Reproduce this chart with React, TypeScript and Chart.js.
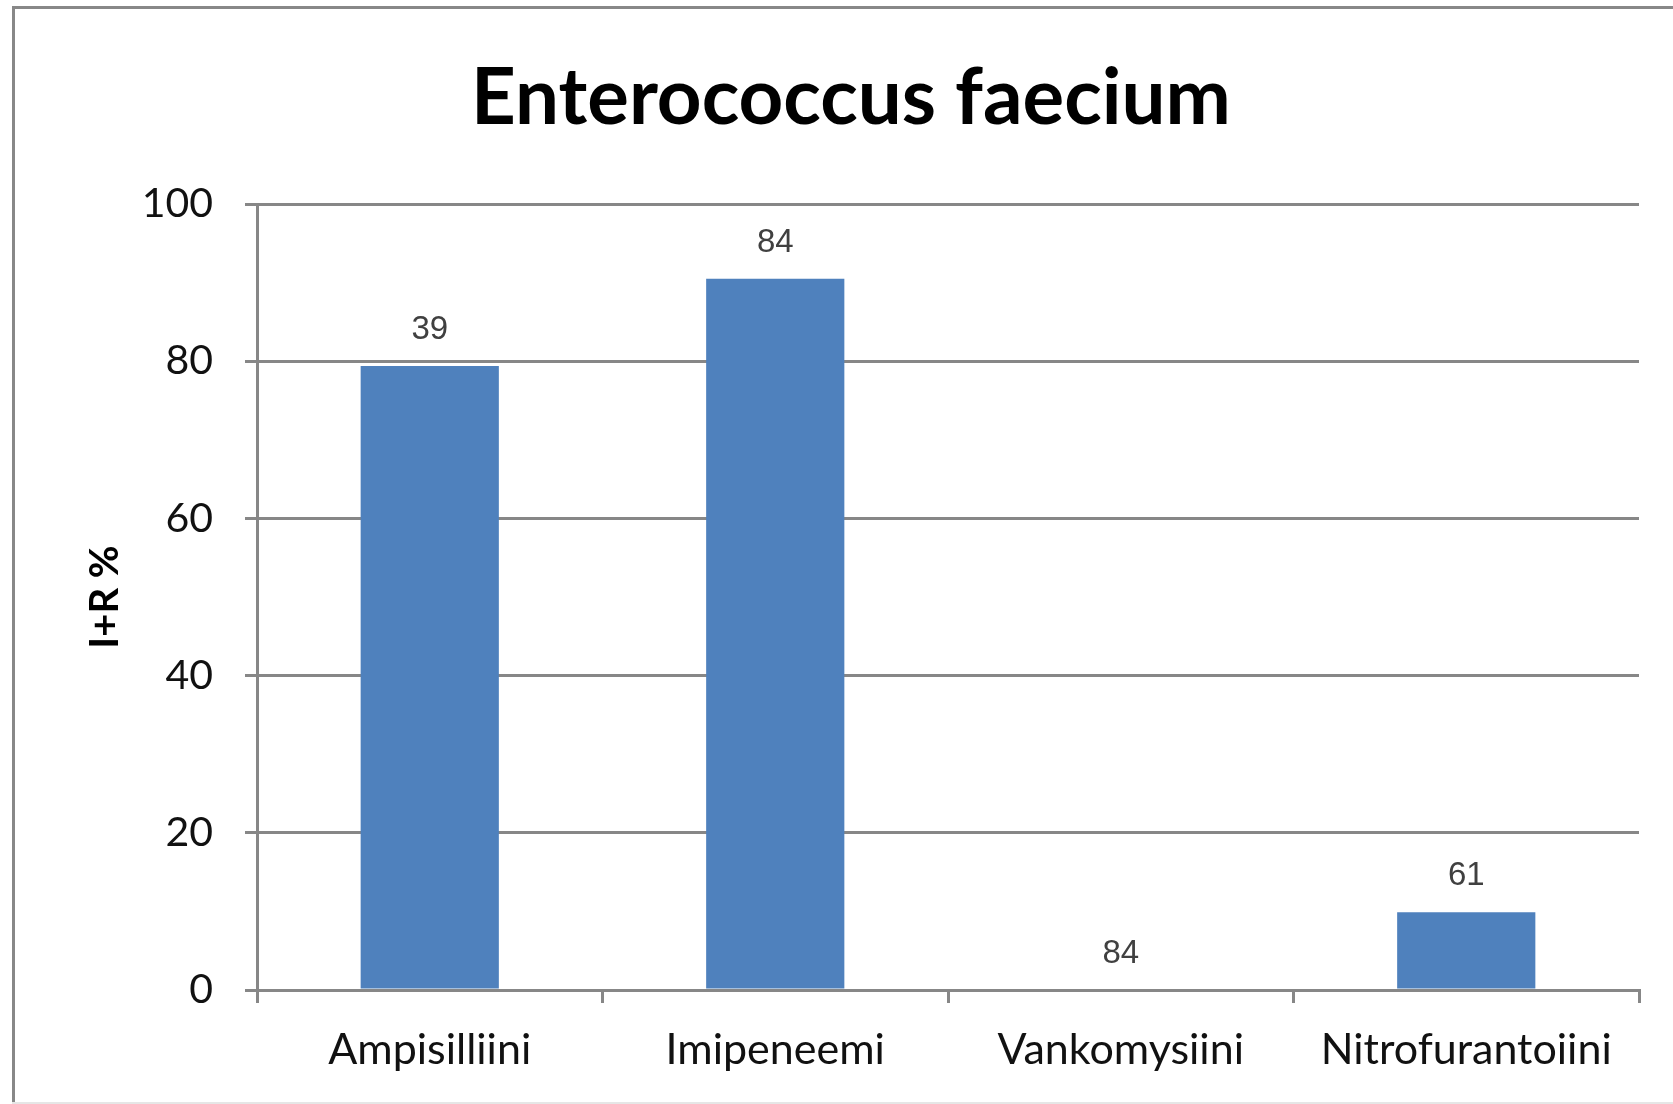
import React, { useEffect, useRef } from 'react';
import { Chart, registerables } from 'chart.js';

Chart.register(...registerables);

// ---- data ----
const categories = ['Ampisilliini', 'Imipeneemi', 'Vankomysiini', 'Nitrofurantoiini'];
const resistancePct = [79.4, 90.5, 0, 9.9];
const isolateCounts = ['39', '84', '84', '61'];
const yMin = 0;
const yMax = 100;
const yStep = 20;
const chartTitle = 'Enterococcus faecium';
const yAxisTitle = 'I+R %';

const AXIS_GRAY = '#878787';
const BAR_BLUE = '#4F81BD';

const framePlugin = {
  id: 'frame',
  beforeDraw(chart: any) {
    const { ctx, width, height } = chart;
    ctx.save();
    ctx.fillStyle = '#ffffff';
    ctx.fillRect(0, 0, width, height);
    ctx.strokeStyle = '#888888';
    ctx.lineWidth = 3;
    ctx.beginPath();
    ctx.moveTo(width + 10, 7.5);
    ctx.lineTo(13.5, 7.5);
    ctx.lineTo(13.5, height - 2);
    ctx.stroke();
    ctx.fillStyle = '#e6e6e6';
    ctx.fillRect(12, height - 2, width - 12, 2);
    ctx.restore();
  },
  afterDraw(chart: any) {
    const { ctx } = chart;
    ctx.save();
    ctx.fillStyle = '#000000';
    ctx.font = 'bold 78px Lato';
    ctx.textAlign = 'center';
    ctx.textBaseline = 'alphabetic';
    ctx.fillText(chartTitle, 851, 124);
    ctx.restore();
  },
};

const countLabelPlugin = {
  id: 'countLabels',
  afterDatasetsDraw(chart: any) {
    const { ctx } = chart;
    const meta = chart.getDatasetMeta(0);
    ctx.save();
    ctx.fillStyle = '#404040';
    ctx.font = '33px "Liberation Sans"';
    ctx.textAlign = 'center';
    ctx.textBaseline = 'middle';
    meta.data.forEach((bar: any, i: number) => {
      ctx.fillText(isolateCounts[i], bar.x, bar.y - 36);
    });
    ctx.restore();
  },
};

export default function App() {
  const canvasRef = useRef<HTMLCanvasElement | null>(null);

  useEffect(() => {
    document.body.style.margin = '0';
    document.body.style.overflow = 'hidden';
    const canvas = canvasRef.current;
    if (!canvas) return;
    const chart = new Chart(canvas, {
      type: 'bar',
      data: {
        labels: categories,
        datasets: [
          {
            data: resistancePct,
            backgroundColor: BAR_BLUE,
            borderWidth: 0,
            categoryPercentage: 0.8,
            barPercentage: 0.5,
          },
        ],
      },
      options: {
        responsive: false,
        animation: false,
        devicePixelRatio: 1,
        layout: { padding: { top: 204, right: 34, left: 0, bottom: 0 } },
        plugins: {
          legend: { display: false },
          title: { display: false },
          tooltip: { enabled: false },
        },
        scales: {
          x: {
            afterFit: (scale: any) => {
              scale.height = 114;
            },
            grid: {
              drawOnChartArea: false,
              drawTicks: true,
              tickLength: 13,
              color: AXIS_GRAY,
              lineWidth: 3,
            },
            border: { display: true, color: AXIS_GRAY, width: 3 },
            ticks: {
              color: '#111111',
              font: { family: 'Lato', size: 43 },
              padding: 21,
              maxRotation: 0,
              autoSkip: false,
            },
          },
          y: {
            min: yMin,
            max: yMax,
            afterFit: (scale: any) => {
              scale.width = 257;
            },
            grid: {
              color: AXIS_GRAY,
              lineWidth: 3,
              drawTicks: true,
              tickLength: 12,
            },
            border: { display: true, color: AXIS_GRAY, width: 3 },
            ticks: {
              stepSize: yStep,
              color: '#111111',
              font: { family: 'Lato', size: 41 },
              padding: 32,
            },
            title: {
              display: true,
              text: yAxisTitle,
              color: '#000000',
              font: { family: 'Lato', size: 40, weight: 'bold' },
              padding: { top: 81, bottom: 0 },
            },
          },
        },
      },
      plugins: [framePlugin, countLabelPlugin],
    });
    return () => chart.destroy();
  }, []);

  return (
    <canvas
      ref={canvasRef}
      width={1673}
      height={1104}
      style={{ display: 'block', width: '1673px', height: '1104px' }}
    />
  );
}
